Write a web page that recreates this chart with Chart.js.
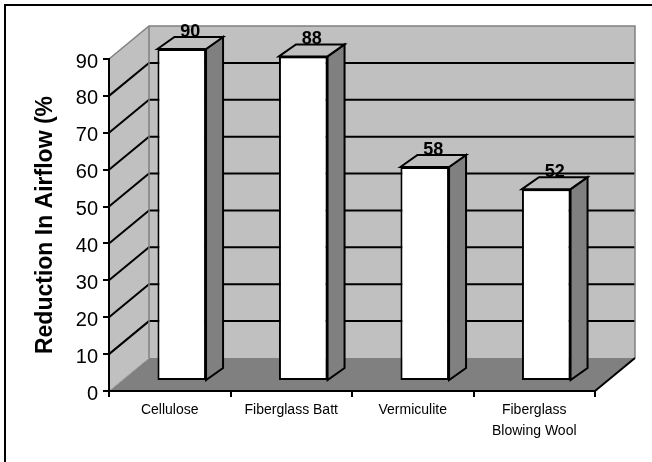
<!DOCTYPE html>
<html>
<head>
<meta charset="utf-8">
<style>
  html, body { margin: 0; padding: 0; background: #fff; }
  canvas { display: block; }
</style>
<script src="https://cdn.jsdelivr.net/npm/chart.js@4/dist/chart.umd.min.js"></script>
</head>
<body>
<canvas id="c" width="652" height="462"></canvas>
<script>
// Insulation materials and the airflow reduction each one gives
const categories = ['Cellulose', 'Fiberglass Batt', 'Vermiculite', ['Fiberglass', 'Blowing Wool']];
const reductionPct = [90, 88, 58, 52];
const yTickValues = [0, 10, 20, 30, 40, 50, 60, 70, 80, 90];
const axisTitle = 'Reduction In Airflow (%';

const FONT = "'Liberation Sans', Arial, Helvetica, sans-serif";

// 3-D box geometry (pixels)
const WALL = { dx: 40, dy: -33 };       // depth of the floor / side wall
const BAR_SHIFT = { dx: 12, dy: -10 };  // how far the bar fronts sit inside the box
const BAR_DEPTH = { dx: 17, dy: -12 };  // depth of each bar

function poly(ctx, pts) {
  ctx.beginPath();
  ctx.moveTo(pts[0][0], pts[0][1]);
  for (let i = 1; i < pts.length; i++) ctx.lineTo(pts[i][0], pts[i][1]);
  ctx.closePath();
}

const box3d = {
  id: 'box3d',
  beforeDraw(chart) {
    const { ctx, chartArea: a, scales: { y } } = chart;
    const x0 = a.left, x1 = a.right;
    const yb = y.getPixelForValue(y.min), yt = y.getPixelForValue(y.max);
    const { dx, dy } = WALL;
    ctx.save();

    // outer frame
    ctx.strokeStyle = '#000';
    ctx.lineWidth = 2;
    ctx.strokeRect(5, 5, chart.width + 20, chart.height + 20);

    // back wall and side wall
    ctx.fillStyle = '#c0c0c0';
    ctx.fillRect(x0 + dx, yt + dy, x1 - x0, yb - yt);
    poly(ctx, [[x0, yt], [x0 + dx, yt + dy], [x0 + dx, yb + dy], [x0, yb]]);
    ctx.fill();

    // floor
    ctx.fillStyle = '#808080';
    poly(ctx, [[x0, yb], [x0 + dx, yb + dy], [x1 + dx, yb + dy], [x1, yb]]);
    ctx.fill();

    // gridlines across side wall and back wall
    ctx.strokeStyle = '#000';
    ctx.lineWidth = 2;
    y.ticks.forEach(t => {
      if (t.value <= y.min || t.value >= y.max) return;
      const py = y.getPixelForValue(t.value);
      ctx.beginPath();
      ctx.moveTo(x0, py);
      ctx.lineTo(x0 + dx, py + dy);
      ctx.lineTo(x1 + dx, py + dy);
      ctx.stroke();
    });

    // wall edges
    ctx.strokeStyle = '#808080';
    ctx.lineWidth = 1.5;
    ctx.beginPath();
    ctx.moveTo(x0, yt);
    ctx.lineTo(x0 + dx, yt + dy);
    ctx.lineTo(x1 + dx, yt + dy);
    ctx.lineTo(x1 + dx, yb + dy);
    ctx.stroke();
    ctx.beginPath();
    ctx.moveTo(x0 + dx, yt + dy);
    ctx.lineTo(x0 + dx, yb + dy);
    ctx.stroke();

    ctx.strokeStyle = '#a8a8a8';
    ctx.lineWidth = 1;
    ctx.beginPath();
    ctx.moveTo(x0, yb);
    ctx.lineTo(x0 + dx, yb + dy);
    ctx.stroke();

    ctx.strokeStyle = '#000';
    ctx.lineWidth = 2;
    ctx.beginPath();
    ctx.moveTo(x1, yb);
    ctx.lineTo(x1 + dx, yb + dy);
    ctx.stroke();

    ctx.restore();
  },
  beforeDatasetsDraw(chart) {
    chart.ctx.save();
    chart.ctx.translate(BAR_SHIFT.dx, BAR_SHIFT.dy);
  },
  afterDatasetsDraw(chart) {
    const ctx = chart.ctx;
    ctx.restore();
    const meta = chart.getDatasetMeta(0);
    const values = chart.data.datasets[0].data;
    const { dx, dy } = BAR_DEPTH;
    meta.data.forEach((bar, i) => {
      const p = bar.getProps(['x', 'y', 'base', 'width'], true);
      const l = p.x - p.width / 2 + BAR_SHIFT.dx;
      const r = p.x + p.width / 2 + BAR_SHIFT.dx;
      const t = p.y + BAR_SHIFT.dy;
      const b = p.base + BAR_SHIFT.dy;
      ctx.save();
      ctx.strokeStyle = '#000';
      ctx.lineWidth = 2;
      ctx.lineJoin = 'miter';
      // right side face
      ctx.fillStyle = '#808080';
      poly(ctx, [[r, t], [r + dx, t + dy], [r + dx, b + dy], [r, b]]);
      ctx.fill();
      ctx.stroke();
      // top face
      ctx.fillStyle = '#c0c0c0';
      poly(ctx, [[l, t], [l + dx, t + dy], [r + dx, t + dy], [r, t]]);
      ctx.fill();
      ctx.stroke();
      // value label resting on the top face
      ctx.fillStyle = '#000';
      ctx.font = 'bold 18px ' + FONT;
      ctx.textAlign = 'center';
      ctx.textBaseline = 'alphabetic';
      ctx.fillText(String(values[i]), (l + r) / 2 + dx / 2, t + dy);
      ctx.restore();
    });
  }
};

new Chart(document.getElementById('c'), {
  type: 'bar',
  data: {
    labels: categories,
    datasets: [{
      data: reductionPct,
      backgroundColor: '#ffffff',
      borderColor: '#000000',
      borderWidth: 2,
      borderSkipped: false,
      barPercentage: 0.4,
      categoryPercentage: 1
    }]
  },
  options: {
    responsive: false,
    devicePixelRatio: 1,
    animation: false,
    layout: { padding: { left: 0, top: 59, right: 57, bottom: 0 } },
    plugins: {
      legend: { display: false },
      tooltip: { enabled: false }
    },
    scales: {
      x: {
        offset: true,
        grid: {
          display: true, offset: true, drawOnChartArea: false, drawTicks: true,
          tickLength: 6, tickColor: '#000', tickWidth: 2, lineWidth: 2
        },
        border: { display: true, color: '#000', width: 2 },
        ticks: {
          color: '#000', padding: 3, maxRotation: 0, autoSkip: false,
          font: { family: FONT, size: 14, lineHeight: 1.5 }
        },
        afterFit(s) { s.height = 71; }
      },
      y: {
        min: yTickValues[0],
        max: yTickValues[yTickValues.length - 1],
        afterBuildTicks(s) { s.ticks = yTickValues.map(v => ({ value: v })); },
        grid: {
          display: true, drawOnChartArea: false, drawTicks: true,
          tickLength: 6, tickColor: '#000', tickWidth: 2, lineWidth: 2
        },
        border: { display: true, color: '#000', width: 2 },
        ticks: {
          color: '#000', padding: 5, labelOffset: 3,
          font: { family: FONT, size: 20 }
        },
        title: {
          display: true,
          text: axisTitle,
          color: '#000',
          font: { family: FONT, size: 23, weight: 'bold', lineHeight: 1.2 },
          padding: { top: 32, bottom: 0 }
        },
        afterFit(s) { s.width = 109; }
      }
    }
  },
  plugins: [box3d]
});
</script>
</body>
</html>
